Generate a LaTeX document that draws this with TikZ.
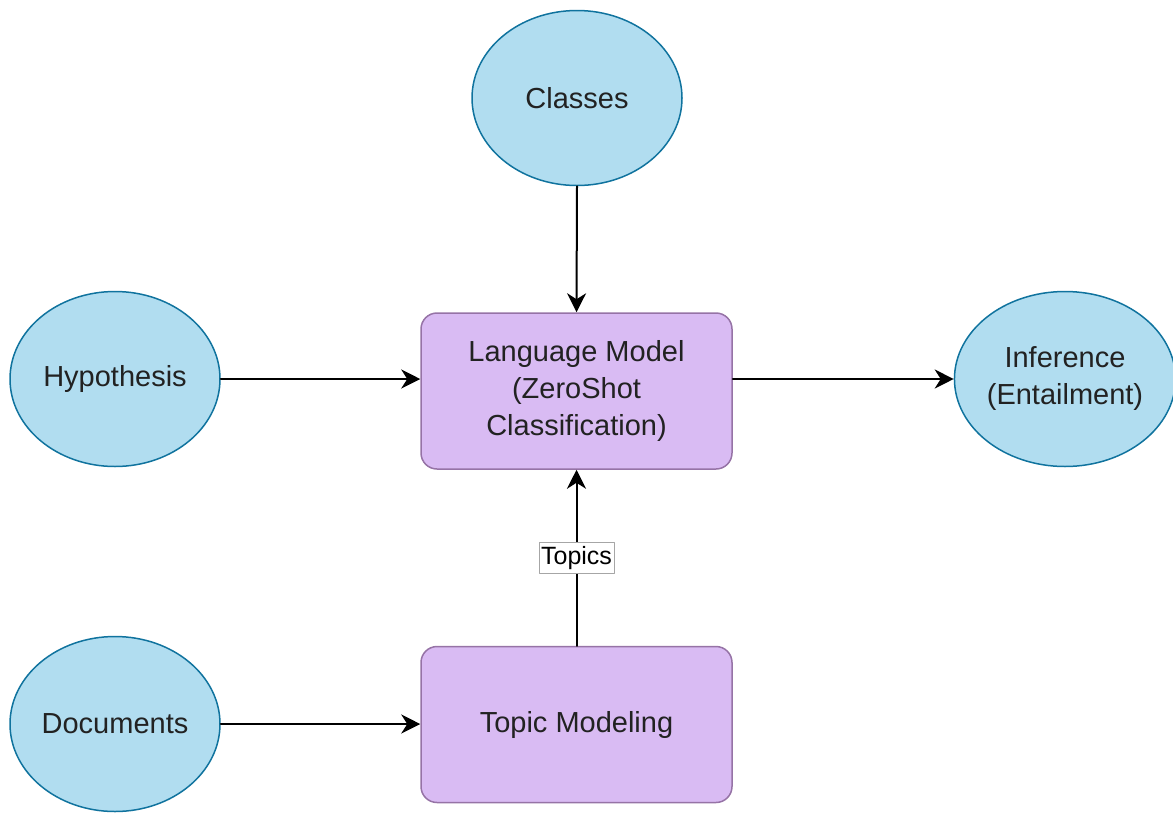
\documentclass[tikz,border=0pt]{standalone}
\usepackage{fontspec}
\setmainfont{Liberation Sans}
\usepackage{tikz}
\usetikzlibrary{arrows.meta}
\usetikzlibrary{shapes.geometric}
\definecolor{bbddf0}{RGB}{177,221,240}
\definecolor{ttsspp}{RGB}{16,115,158}
\definecolor{ddbbf3}{RGB}{217,187,243}
\definecolor{vvttaa}{RGB}{150,115,166}
\definecolor{uuuuuu}{RGB}{34,34,34}
\tikzstyle{every node}=[font=\fontsize{29}{37}\selectfont, text=uuuuuu]

\begin{document}
\begin{tikzpicture}[line cap=round,line join=round,x=1pt,y=-1pt,
    oval/.style={ellipse,draw=ttsspp,fill=bbddf0,line width=1.5pt,minimum width=210pt,minimum height=175pt,inner sep=0pt,align=center},
    model/.style={rectangle,rounded corners=16pt,draw=vvttaa,fill=ddbbf3,line width=1.5pt,minimum width=311pt,minimum height=156pt,inner sep=0pt,align=center},
    flow/.style={-{Stealth[length=19pt,width=19pt,inset=6pt]},line width=2pt,color=black}]
            \useasboundingbox (0,0) rectangle (1173,812);
            \node[oval] (cls) at (577,98) {Classes};
            \node[oval] (hyp) at (115,379) {Hypothesis};
            \node[oval] (inf) at (1065,379) {Inference\\(Entailment)};
            \node[oval] (docs) at (115,724) {Documents};
            \node[model] (lm) at (576.5,391) {Language Model\\(ZeroShot\\Classification)};
            \node[model] (tm) at (576.5,724.5) {Topic Modeling};
            \draw [flow] (cls.south) -- (lm.north);
            \draw [flow] (hyp.east) -- (hyp.east -| lm.west);
            \draw [flow] (lm.east |- inf.west) -- (inf.west);
            \draw [flow] (docs.east) -- (docs.east -| tm.west);
            \draw [flow] (tm.north) -- (lm.south) node [midway, fill=white, draw=black!35, line width=0.8pt, inner xsep=2pt, inner ysep=4pt, text=black, font=\fontsize{25}{30}\selectfont] (tpc) {Topics};
            \end{tikzpicture}
\end{document}
